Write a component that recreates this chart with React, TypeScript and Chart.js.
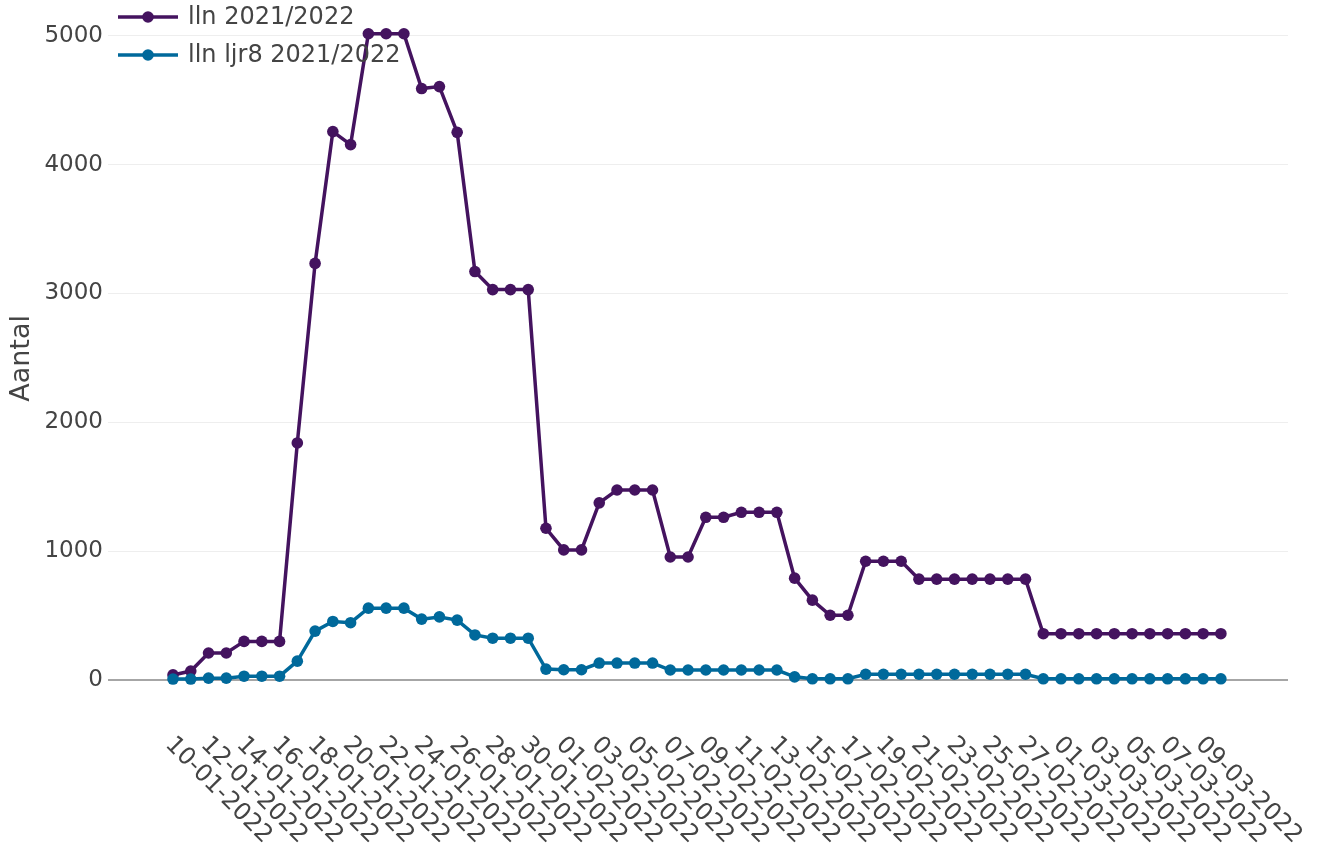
import React, { useEffect, useRef } from "react";
import { Chart, registerables } from "chart.js";

Chart.register(...registerables);

const dates: string[] = [
  "10-01-2022", "11-01-2022", "12-01-2022", "13-01-2022", "14-01-2022", "15-01-2022",
  "16-01-2022", "17-01-2022", "18-01-2022", "19-01-2022", "20-01-2022", "21-01-2022",
  "22-01-2022", "23-01-2022", "24-01-2022", "25-01-2022", "26-01-2022", "27-01-2022",
  "28-01-2022", "29-01-2022", "30-01-2022", "31-01-2022", "01-02-2022", "02-02-2022",
  "03-02-2022", "04-02-2022", "05-02-2022", "06-02-2022", "07-02-2022", "08-02-2022",
  "09-02-2022", "10-02-2022", "11-02-2022", "12-02-2022", "13-02-2022", "14-02-2022",
  "15-02-2022", "16-02-2022", "17-02-2022", "18-02-2022", "19-02-2022", "20-02-2022",
  "21-02-2022", "22-02-2022", "23-02-2022", "24-02-2022", "25-02-2022", "26-02-2022",
  "27-02-2022", "28-02-2022", "01-03-2022", "02-03-2022", "03-03-2022", "04-03-2022",
  "05-03-2022", "06-03-2022", "07-03-2022", "08-03-2022", "09-03-2022", "10-03-2022",
];

const llnValues: number[] = [
  40, 70, 210, 210, 300, 300, 300, 1840, 3233, 4256, 4155, 5015, 5015, 5015,
  4590, 4605, 4250, 3170, 3030, 3030, 3030, 1178, 1010, 1010, 1375, 1475, 1475, 1475,
  955, 955, 1263, 1263, 1302, 1302, 1302, 791, 620, 503, 503, 922, 922, 922,
  783, 783, 783, 783, 783, 783, 783,
  360, 360, 360, 360, 360, 360, 360, 360, 360, 360, 360,
];

const ljr8Values: number[] = [
  8, 8, 15, 15, 30, 30, 30, 147, 380, 455, 445, 558, 558, 558,
  473, 490, 465, 350, 325, 325, 325, 85, 80, 80, 132, 132, 132, 132,
  78, 78, 78, 78, 78, 78, 78, 25, 10, 10, 10,
  45, 45, 45, 45, 45, 45, 45, 45, 45, 45,
  10, 10, 10, 10, 10, 10, 10, 10, 10, 10, 10,
];

const yTicks: number[] = [0, 1000, 2000, 3000, 4000, 5000];

const seriesNames: string[] = ["lln 2021/2022", "lln ljr8 2021/2022"];
const seriesColors: string[] = ["#44135f", "#00699b"];

const FONT = "DejaVu Sans";
const TEXT = "#444";

const customPlugin = {
  id: "customLabels",
  afterDraw(chart: any) {
    const ctx = chart.ctx;
    const xs = chart.scales.x;
    ctx.save();
    // rotated x tick labels (every second date)
    ctx.font = `24px "${FONT}"`;
    ctx.fillStyle = TEXT;
    ctx.textAlign = "left";
    ctx.textBaseline = "middle";
    dates.forEach((d, i) => {
      if (i % 2 !== 0) return;
      const px = xs.getPixelForValue(i);
      ctx.save();
      ctx.translate(px - 4, 741);
      ctx.rotate(Math.PI / 4);
      ctx.fillText(d, 0, 0);
      ctx.restore();
    });
    // legend
    const rows = [17, 55];
    seriesNames.forEach((name, i) => {
      const y = rows[i];
      ctx.strokeStyle = seriesColors[i];
      ctx.lineWidth = 3.5;
      ctx.beginPath();
      ctx.moveTo(118, y);
      ctx.lineTo(178, y);
      ctx.stroke();
      ctx.fillStyle = seriesColors[i];
      ctx.beginPath();
      ctx.arc(148, y, 5.8, 0, Math.PI * 2);
      ctx.fill();
      ctx.fillStyle = TEXT;
      ctx.font = `24px "${FONT}"`;
      ctx.textAlign = "left";
      ctx.textBaseline = "middle";
      ctx.fillText(name, 188, y + 1);
    });
    ctx.restore();
  },
};

export default function App() {
  const ref = useRef<HTMLCanvasElement | null>(null);

  useEffect(() => {
    if (!ref.current) return;
    Chart.defaults.font.family = FONT;
    const chart = new Chart(ref.current, {
      type: "line",
      data: {
        labels: dates,
        datasets: [
          {
            label: seriesNames[0],
            data: llnValues.map((v, i) => ({ x: i, y: v })),
            borderColor: seriesColors[0],
            backgroundColor: seriesColors[0],
            borderWidth: 3.5,
            pointRadius: 5.8,
            pointBorderWidth: 0,
            pointBackgroundColor: seriesColors[0],
            tension: 0,
            order: 2,
            clip: false as any,
          },
          {
            label: seriesNames[1],
            data: ljr8Values.map((v, i) => ({ x: i, y: v })),
            borderColor: seriesColors[1],
            backgroundColor: seriesColors[1],
            borderWidth: 3.5,
            pointRadius: 5.8,
            pointBorderWidth: 0,
            pointBackgroundColor: seriesColors[1],
            tension: 0,
            order: 1,
            clip: false as any,
          },
        ],
      },
      options: {
        animation: false,
        responsive: true,
        maintainAspectRatio: false,
        layout: { padding: { left: 0, right: 31, top: 0, bottom: 0 } },
        plugins: {
          legend: { display: false },
          tooltip: { enabled: false },
        },
        scales: {
          x: {
            type: "linear",
            min: -3.66,
            max: 62.78,
            grid: { display: false },
            border: { display: false },
            ticks: { display: false },
            afterFit: (s: any) => {
              s.height = 140;
              s.paddingLeft = 0;
              s.paddingRight = 0;
            },
          },
          y: {
            type: "linear",
            min: -240,
            max: 5232,
            border: { display: false },
            grid: {
              drawTicks: false,
              color: (c: any) => (c.tick && c.tick.value === 0 ? "#a6a6a6" : "#eeeeee"),
              lineWidth: (c: any) => (c.tick && c.tick.value === 0 ? 2 : 1),
            },
            afterBuildTicks: (s: any) => {
              s.ticks = yTicks.map((v) => ({ value: v }));
            },
            ticks: {
              color: TEXT,
              font: { size: 23, family: FONT },
              padding: 5,
              callback: (v: any) => String(v),
            },
            title: {
              display: true,
              text: "Aantal",
              color: TEXT,
              font: { size: 27, family: FONT },
              padding: { top: 6, bottom: 0 },
            },
            afterFit: (s: any) => {
              s.width = 108;
              s.paddingTop = 0;
              s.paddingBottom = 0;
            },
          },
        },
      },
      plugins: [customPlugin],
    });
    return () => chart.destroy();
  }, []);

  return (
    <div style={{ position: "fixed", left: 0, top: 0, width: 1319, height: 851, background: "#fff" }}>
      <canvas ref={ref} />
    </div>
  );
}
